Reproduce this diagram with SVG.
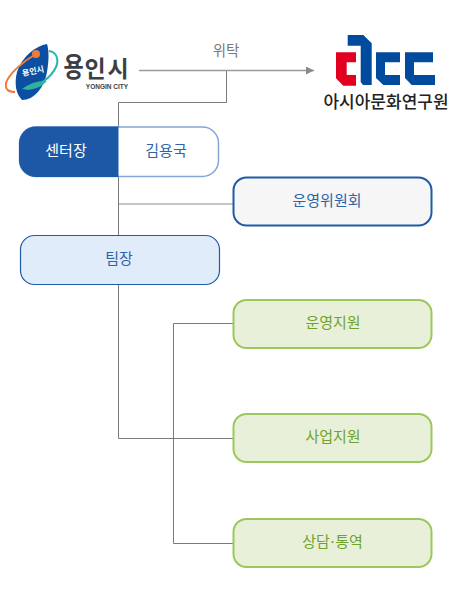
<svg xmlns="http://www.w3.org/2000/svg" width="452" height="600" viewBox="0 0 452 600">
<style>
text{font-family:"Noto Sans CJK KR","Liberation Sans",sans-serif;text-anchor:middle}
.l{font-size:15px}
.b{fill:#2f63ab}.g{fill:#6fa32a}
.node{stroke-width:2}
.blue{fill:#f6f6f6;stroke:#1f5aa8}
.green{fill:#e9f0da;stroke:#9cc75c}
.d{fill:none;stroke:#7a7a7a;stroke-width:1}
.lg{fill:none;stroke:#b3b3b3;stroke-width:1.5}
.cb{fill:#004b9d}
.y{font-weight:700;fill:#3b3f45}
</style>
<defs><marker id="a" markerWidth="9" markerHeight="9" refX="8" refY="4" orient="auto" markerUnits="userSpaceOnUse"><path d="M0 0L8 4L0 8z" fill="#8a8a8a"/></marker></defs>
<g id="connectors">
<path d="M139 70.500H314" fill="none" stroke="#9a9a9a" stroke-width="1.500" marker-end="url(#a)"/>
<path class="d" d="M226.500 71V102.500H118.500V438.500H233"/>
<path class="lg" d="M119 204H233"/>
<path class="d" d="M233 323.500H173.500V543.500H233"/>
</g>
<g id="logo-yongin">
<path d="M47 44C36 46 22 56 17 72C14 84 16 94 22 100C34 100 44 88 47 72C49 60 49 50 47 44z" fill="#0b4ea2"/>
<path d="M36 54C22 62 9 74 6 83C5 90 9 92 15 92" fill="none" stroke="#ee7b3a" stroke-width="2"/>
<path d="M49 51C57 52 59 60 56 67C51 78 38 86 27 89" fill="none" stroke="#25b5b0" stroke-width="2"/>
<circle cx="36" cy="54" r="4" fill="#ee7b3a"/>
<path d="M22 89Q34 80 47 81Q37 92 22 89z" fill="#2fb3a0"/>
<text x="33" y="74" font-size="8" font-weight="700" fill="#fff" transform="rotate(-12 33 71)">용인시</text>
<text class="y" x="73.500" y="77" font-size="22" transform="translate(0 -18) scale(1 1.240)">용</text>
<text class="y" x="95" y="77" font-size="23">인</text>
<text class="y" x="118" y="77" font-size="23">시</text>
<text x="107" y="89" style="font-family:'Liberation Sans',sans-serif" font-size="6.500" font-weight="700" fill="#3b3f45">YONGIN CITY</text>
</g>
<g id="edge-label"><text x="226" y="56" font-size="14.500" fill="#7a7a7a">위탁</text></g>
<g id="logo-acc">
<path fill="#e1001f" d="M336 52.300H356V62.300H346.700V75H356V85.700H343.300L336 78.300z"/>
<path class="cb" d="M347.700 35H363.300L371.700 43.300V85H363L360.700 82V45.700H347.700z"/>
<path class="cb" d="M376 52.300H400V62.300H385V75H400V85H383.300L376 78z"/>
<path class="cb" d="M405 52.300H433V62.300H414V75H435V85H411.700L405 78z"/>
<text x="386" y="108" font-size="17" font-weight="500" fill="#222">아시아문화연구원</text>
</g>
<g id="node-director">
<rect x="19.500" y="127" width="199" height="49.500" rx="16" fill="#fff" stroke="#84a7d6" stroke-width="1.500"/>
<path d="M118.500 126.500H36A17 17 0 0 0 19 143.500V160A17 17 0 0 0 36 177H118.500z" fill="#1c58a6"/>
<text class="l" x="66" y="156" fill="#fff">센터장</text>
<text class="l b" x="166" y="156">김용국</text>
</g>
<g id="node-committee">
<rect class="node blue" x="233.500" y="177.500" width="198" height="48" rx="13"/>
<text class="l b" x="327" y="206">운영위원회</text>
</g>
<g id="node-lead">
<rect x="20.500" y="235.500" width="199" height="49" rx="14" fill="#e1ecfb" stroke="#1f5aa8" stroke-width="1.200"/>
<text class="l b" x="119" y="264">팀장</text>
</g>
<g id="node-ops">
<rect class="node green" x="233.500" y="300" width="198" height="48" rx="13"/>
<text class="l g" x="333" y="328">운영지원</text>
</g>
<g id="node-biz">
<rect class="node green" x="233.500" y="414" width="198" height="48" rx="13"/>
<text class="l g" x="333" y="442">사업지원</text>
</g>
<g id="node-counsel">
<rect class="node green" x="233.500" y="519" width="198" height="48" rx="13"/>
<text class="l g" x="332.500" y="547">상담<tspan dx="-1.500">·</tspan><tspan dx="-1.500">통역</tspan></text>
</g>
</svg>
